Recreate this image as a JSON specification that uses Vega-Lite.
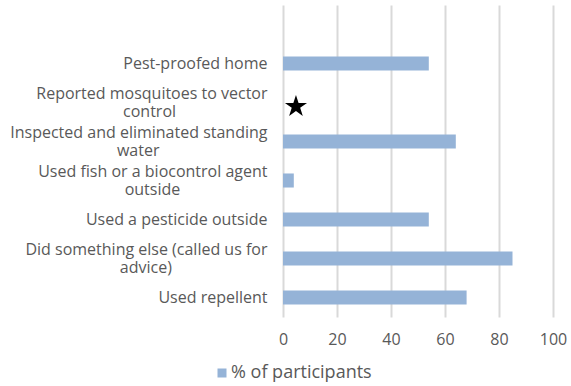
{
  "$schema": "https://vega.github.io/schema/vega-lite/v6.json",
  "width": 270,
  "height": 312,
  "autosize": {"type": "none"},
  "padding": {"left": 283, "top": 5, "right": 18, "bottom": 69},
  "background": "white",
  "config": {
    "view": {"stroke": null},
    "font": "Open Sans",
    "axis": {"labelColor": "#595959", "labelFont": "Open Sans"},
    "legend": {"labelColor": "#595959", "labelFont": "Open Sans"}
  },
  "data": {
    "values": [
      {"activity": "Pest-proofed home", "pct": 54, "kind": "bar"},
      {"activity": "Reported mosquitoes to vector|control", "pct": 4.8, "kind": "star"},
      {"activity": "Inspected and eliminated standing|water", "pct": 64, "kind": "bar"},
      {"activity": "Used fish or a biocontrol agent|outside", "pct": 4, "kind": "bar"},
      {"activity": "Used a pesticide outside", "pct": 54, "kind": "bar"},
      {"activity": "Did something else (called us for|advice)", "pct": 85, "kind": "bar"},
      {"activity": "Used repellent", "pct": 68, "kind": "bar"}
    ]
  },
  "encoding": {
    "y": {
      "field": "activity",
      "type": "nominal",
      "sort": null,
      "scale": {
        "domain": [" ", "Pest-proofed home", "Reported mosquitoes to vector|control", "Inspected and eliminated standing|water", "Used fish or a biocontrol agent|outside", "Used a pesticide outside", "Did something else (called us for|advice)", "Used repellent"],
        "paddingInner": 0.64,
        "paddingOuter": 0.32
      },
      "axis": {
        "title": null,
        "domain": false,
        "ticks": false,
        "grid": false,
        "labelFontSize": 16,
        "labelLineHeight": 18,
        "labelPadding": 16,
        "labelLimit": 400,
        "labelOffset": {"condition": {"test": "indexof(datum.value, '|') >= 0", "value": -9}, "value": 0},
        "labelExpr": "indexof(datum.label, '|') < 0 ? datum.label : [split(datum.label, '|')[0], split(datum.label, '|')[1] + pad('', indexof(datum.label, 'vector') >= 0 ? 22 : indexof(datum.label, 'standing') >= 0 ? 26 : indexof(datum.label, 'biocontrol') >= 0 ? 21 : 23, '\u00a0') + '\u200b']"
      }
    },
    "x": {
      "field": "pct",
      "type": "quantitative",
      "scale": {"domain": [0, 100]},
      "axis": {
        "title": null,
        "orient": "bottom",
        "values": [0, 20, 40, 60, 80, 100],
        "domain": false,
        "ticks": false,
        "grid": true,
        "gridColor": "#d9d9d9",
        "gridWidth": 2,
        "labelFontSize": 16,
        "labelPadding": 14,
        "labelFlush": false
      }
    }
  },
  "layer": [
    {
      "transform": [{"filter": "datum.kind == 'bar'"}],
      "mark": {"type": "bar"},
      "encoding": {
        "color": {
          "datum": "% of participants",
          "type": "nominal",
          "scale": {"range": ["#95b3d7"]},
          "legend": {
            "title": null,
            "orient": "none",
            "legendX": -70,
            "legendY": 359,
            "symbolType": "square",
            "symbolSize": 81,
            "labelFontSize": 18,
            "labelOffset": 0
          }
        }
      }
    },
    {
      "transform": [{"filter": "datum.kind == 'star'"}],
      "mark": {
        "type": "point",
        "shape": "M0,-1L0.2245,-0.309L0.951,-0.309L0.363,0.118L0.588,0.809L0,0.382L-0.588,0.809L-0.363,0.118L-0.951,-0.309L-0.2245,-0.309Z",
        "filled": true,
        "color": "black",
        "size": 540,
        "opacity": 1,
        "yOffset": 4
      }
    }
  ]
}
